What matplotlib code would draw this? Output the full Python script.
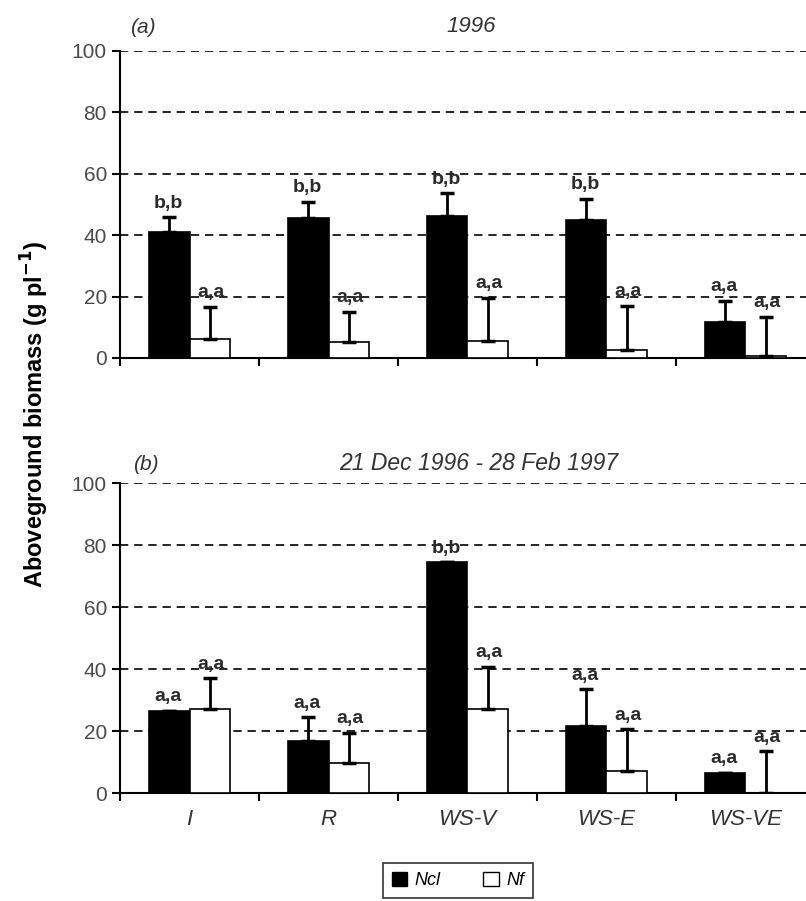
import matplotlib.pyplot as plt
import numpy as np
from matplotlib.patches import Patch

plt.rcParams['font.family'] = ['Liberation Sans', 'DejaVu Sans']

groups = ["I", "R", "WS-V", "WS-E", "WS-VE"]

# panel (a) 1996
ncl_a = [41.1, 45.6, 46.2, 45.0, 11.8]
ncl_a_err = [4.8, 5.2, 7.5, 6.8, 6.9]
nf_a = [6.2, 5.2, 5.6, 2.6, 0.5]
nf_a_err = [10.4, 9.8, 14.0, 14.4, 12.9]
lab_ncl_a = ["b,b", "b,b", "b,b", "b,b", "a,a"]
lab_nf_a = ["a,a", "a,a", "a,a", "a,a", "a,a"]

# panel (b) 21 Dec 1996 - 28 Feb 1997
ncl_b = [26.6, 16.9, 74.5, 21.8, 6.6]
ncl_b_err = [0, 7.6, 0, 11.7, 0]
nf_b = [27.2, 9.7, 27.1, 7.2, 0.0]
nf_b_err = [9.9, 9.8, 13.7, 13.4, 13.6]
lab_ncl_b = ["a,a", "a,a", "b,b", "a,a", "a,a"]
lab_nf_b = ["a,a", "a,a", "a,a", "a,a", "a,a"]

fig = plt.figure(figsize=(8.06, 9.01), dpi=100)
ax1 = fig.add_axes([0.149, 0.6027, 0.862, 0.3407])
ax2 = fig.add_axes([0.149, 0.1195, 0.862, 0.3441])

x = np.arange(len(groups))
w = 0.29


def panel(ax, ncl, ncl_err, nf, nf_err, lab1, lab2):
    ax.bar(x - w / 2, ncl, w, color='black', edgecolor='black', linewidth=1.2, zorder=3)
    ax.bar(x + w / 2, nf, w, color='white', edgecolor='black', linewidth=1.2, zorder=3)
    ax.errorbar(x - w / 2, ncl, yerr=[np.zeros(5), ncl_err], fmt='none',
                ecolor='black', elinewidth=2, capsize=5, capthick=2.5, zorder=4)
    ax.errorbar(x + w / 2, nf, yerr=[np.zeros(5), nf_err], fmt='none',
                ecolor='black', elinewidth=2, capsize=5, capthick=2.5, zorder=4)
    for i in range(len(x)):
        ax.annotate(lab1[i], (x[i] - w / 2, ncl[i] + ncl_err[i]), xytext=(-1, 4),
                    textcoords='offset points', ha='center', va='bottom',
                    fontsize=14, fontweight='bold', color='#2a2a2a')
        ax.annotate(lab2[i], (x[i] + w / 2, nf[i] + nf_err[i]), xytext=(1, 4),
                    textcoords='offset points', ha='center', va='bottom',
                    fontsize=14, fontweight='bold', color='#2a2a2a')
    ax.set_xlim(-0.5, 4.5)
    ax.set_ylim(0, 100)
    ax.set_yticks([0, 20, 40, 60, 80, 100])
    ax.set_xticks(np.arange(-0.5, 5, 1))
    ax.set_xticks(x, minor=True)
    ax.tick_params(axis='x', which='major', length=6, width=1.5, labelbottom=False)
    ax.tick_params(axis='x', which='minor', length=0)
    ax.tick_params(axis='y', length=6, width=1.5, labelsize=15, labelcolor='#4a4a4a')
    for y in [20, 40, 60, 80, 100]:
        ax.axhline(y, color='black', linestyle=(0, (5, 3.5)), linewidth=1.2, zorder=1)
    ax.spines['top'].set_visible(False)
    ax.spines['right'].set_visible(False)
    ax.spines['left'].set_linewidth(1.5)
    ax.spines['bottom'].set_linewidth(1.5)


panel(ax1, ncl_a, ncl_a_err, nf_a, nf_a_err, lab_ncl_a, lab_nf_a)
panel(ax2, ncl_b, ncl_b_err, nf_b, nf_b_err, lab_ncl_b, lab_nf_b)

ax2.set_xticklabels(groups, minor=True)
ax2.tick_params(axis='x', which='minor', labelbottom=True, labelsize=16, pad=11,
                labelcolor='#333333')
for t in ax2.get_xticklabels(minor=True):
    t.set_style('italic')

fig.text(0.161, 0.969, "(a)", fontsize=15, style='italic', ha='left', va='center',
         color='#333333')
fig.text(0.584, 0.971, "1996", fontsize=16, style='italic', ha='center', va='center',
         color='#333333')
fig.text(0.165, 0.485, "(b)", fontsize=15, style='italic', ha='left', va='center',
         color='#333333')
fig.text(0.594, 0.486, "21 Dec 1996 - 28 Feb 1997", fontsize=16.5, style='italic',
         ha='center', va='center', color='#333333')

fig.text(0.043, 0.54, "Aboveground biomass (g pl$^{\\mathbf{-1}}$)", rotation=90,
         fontsize=17, fontweight='bold', ha='center', va='center')

handles = [Patch(facecolor='black', edgecolor='black', label='Ncl'),
           Patch(facecolor='white', edgecolor='black', label='Nf')]
leg = fig.legend(handles=handles, loc='center', bbox_to_anchor=(0.568, 0.023),
                 ncol=2, frameon=True, fancybox=False, edgecolor='black',
                 prop={'style': 'italic', 'size': 13}, handlelength=0.85,
                 handleheight=0.85, columnspacing=2.4, handletextpad=0.4,
                 borderpad=0.5)
leg.get_frame().set_linewidth(1.2)

fig.savefig("out.png", dpi=100)
